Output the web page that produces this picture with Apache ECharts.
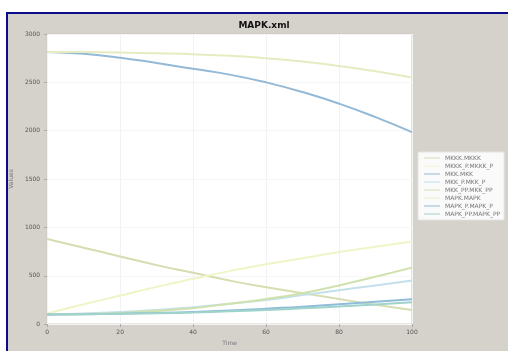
<!DOCTYPE html>
<html>
<head>
<meta charset="utf-8">
<script src="https://cdn.jsdelivr.net/npm/echarts@6/dist/echarts.min.js"></script>
<style>
  html, body { margin: 0; padding: 0; background: #fff; }
  #chart { width: 508px; height: 351px; }
</style>
</head>
<body>
<div id="chart"></div>
<script>
// Time points
const times = [0, 10, 20, 30, 40, 50, 60, 70, 80, 90, 100];

// Species names (legend order)
const names = [
  'MKKK.MKKK', 'MKKK_P.MKKK_P', 'MKK.MKK', 'MKK_P.MKK_P', 'MKK_PP.MKK_PP',
  'MAPK.MAPK', 'MAPK_P.MAPK_P', 'MAPK_PP.MAPK_PP'
];

// Values
const mkkk = [880, 790, 700, 610, 530, 450, 380, 320, 260, 200, 145];
const mkkkP = [110, 205, 295, 385, 468, 548, 620, 682, 745, 800, 855];
const mkk = [2815, 2795, 2755, 2700, 2640, 2580, 2500, 2400, 2280, 2140, 1985];
const mkkP = [100, 110, 125, 145, 175, 210, 250, 300, 350, 400, 450];
const mkkPP = [100, 105, 115, 135, 165, 210, 260, 320, 400, 490, 584];
const mapk = [2815, 2813, 2808, 2800, 2790, 2775, 2750, 2715, 2670, 2615, 2550];
const mapkP = [100, 103, 108, 115, 125, 140, 160, 180, 205, 230, 256];
const mapkPP = [100, 102, 106, 112, 120, 132, 147, 163, 182, 203, 225];

const seriesValues = [mkkk, mkkkP, mkk, mkkP, mkkPP, mapk, mapkP, mapkPP];
const colors = ['#d6ddb0', '#f0f4c6', '#93b9d6', '#c4e0ea', '#cfe2ad', '#e6ecc0', '#8fbcd8', '#9fd3cc'];

const chart = echarts.init(document.getElementById('chart'), null, { renderer: 'canvas' });

chart.setOption({
  animation: false,
  backgroundColor: '#fff',
  color: colors,
  graphic: [
    {
      type: 'rect',
      z: -10,
      shape: { x: 7, y: 13, width: 510, height: 350 },
      style: { fill: '#d5d2cc', stroke: '#0b0b8c', lineWidth: 2 }
    }
  ],
  title: {
    text: 'MAPK.xml',
    left: 259,
    top: 16,
    textAlign: 'center',
    textStyle: { fontFamily: 'DejaVu Sans', fontSize: 9, fontWeight: 'bold', color: '#111' }
  },
  legend: {
    orient: 'vertical',
    left: 418,
    top: 152,
    width: 90,
    padding: [3, 4, 3, 6],
    itemGap: 2,
    itemWidth: 16,
    itemHeight: 8,
    backgroundColor: '#fafafa',
    borderColor: '#e4e2de',
    borderWidth: 1,
    icon: 'path://M0,4L16,4L16,5L0,5Z',
    textStyle: { fontFamily: 'DejaVu Sans', fontSize: 6, color: '#777' },
    data: names
  },
  grid: {
    left: 45, top: 34, width: 367, height: 293,
    show: true, backgroundColor: '#fff', borderColor: '#c9c7c2', borderWidth: 1
  },
  xAxis: {
    type: 'value',
    min: 0, max: 100, interval: 20,
    name: 'Time',
    nameLocation: 'middle',
    nameGap: 15,
    nameTextStyle: { fontFamily: 'DejaVu Sans', fontSize: 6, color: '#777' },
    axisLine: { show: false },
    axisTick: { show: true, length: 3, lineStyle: { color: '#aaa' } },
    axisLabel: { fontFamily: 'DejaVu Sans', fontSize: 6, color: '#555', margin: 5 },
    splitLine: { show: true, lineStyle: { color: '#f2f2f2' } }
  },
  yAxis: {
    type: 'value',
    min: 0, max: 3000, interval: 500,
    name: 'Values',
    nameLocation: 'middle',
    nameGap: 24,
    nameTextStyle: { fontFamily: 'DejaVu Sans', fontSize: 6, color: '#777' },
    axisLine: { show: false },
    axisTick: { show: true, length: 3, lineStyle: { color: '#aaa' } },
    axisLabel: { fontFamily: 'DejaVu Sans', fontSize: 6, color: '#555', margin: 7, formatter: v => String(v) },
    splitLine: { show: true, lineStyle: { color: '#f6f6f6' } }
  },
  series: names.map((name, i) => ({
    name: name,
    type: 'line',
    smooth: true,
    symbol: 'none',
    lineStyle: { width: 2, color: colors[i] },
    data: times.map((t, j) => [t, seriesValues[i][j]])
  }))
});
</script>
</body>
</html>
